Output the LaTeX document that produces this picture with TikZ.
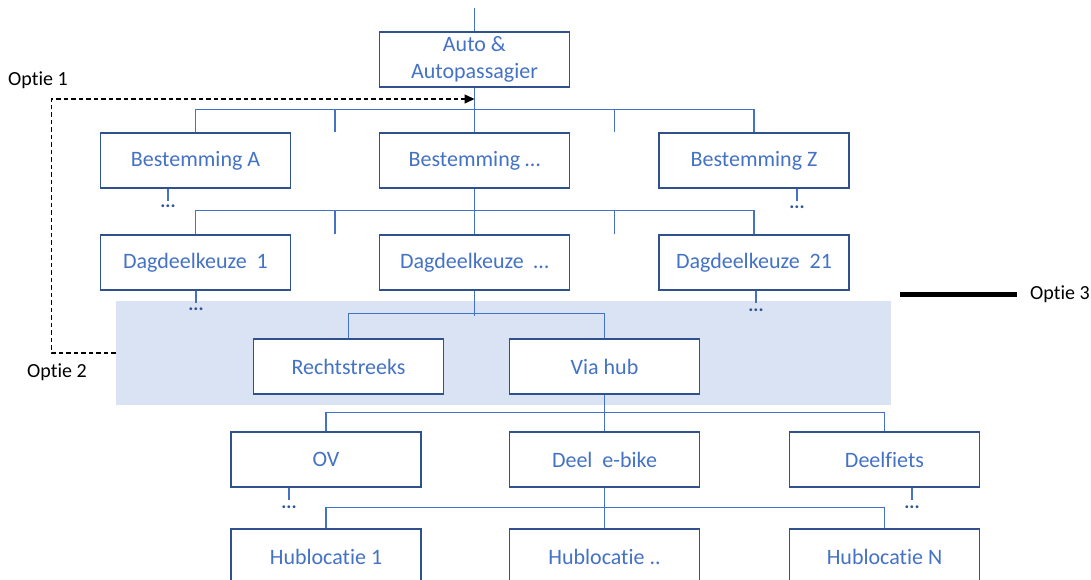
\documentclass[tikz,border=0pt]{standalone}
\usepackage{fontspec}
\setmainfont{Carlito}[Ligatures={NoCommon}]
\usetikzlibrary{arrows.meta,calc}

\definecolor{boxblue}{HTML}{4472C4}
\definecolor{edgeblue}{HTML}{2F528F}
\definecolor{zoneblue}{HTML}{DAE3F3}
\definecolor{dotblue}{HTML}{2F5597}

\tikzset{
  keuze/.style={draw=edgeblue, fill=white, line width=1.3pt, minimum width=190pt,
    minimum height=55pt, inner sep=0pt, align=center, text=boxblue,
    font=\fontsize{22}{27}\selectfont},
  tak/.style={draw=boxblue, line width=1.2pt},
  puntjes/.style={text=dotblue, inner sep=0pt, font=\bfseries\fontsize{19}{19}\selectfont},
  optie/.style={text=black, inner sep=0pt, font=\fontsize{20}{24}\selectfont},
  optielijn/.style={draw=black, line width=1.3pt, dash pattern=on 4.5pt off 3pt}
}

\begin{document}
\begin{tikzpicture}[x=1pt, y=-1pt]
    \useasboundingbox (0,0) rectangle (1091,580);
    \clip (0,0) rectangle (1091,580);

    % optie 3 zone
    \node[fill=zoneblue, minimum width=775pt, minimum height=104pt, inner sep=0pt] (zone) at (503.5,353) {};

    % the boxes
    \node[keuze] (auto) at (474.5,59.5) {Auto \&\\Autopassagier};
    \foreach [count=\x] \t/\px in {A/195.5, …/474.5, Z/754}
        \node[keuze] (b\x) at (\px,160.5) {Bestemming \t};
    \foreach [count=\x] \t/\px in {1/195.5, …/474.5, 21/754}
        \node[keuze] (d\x) at (\px,262.5) {Dagdeelkeuze~~\t};
    \node[keuze] (r1) at (348.5,366.5) {Rechtstreeks};
    \node[keuze] (r2) at (604.5,366.5) {Via hub};
    \foreach [count=\x] \t/\px in {OV/326, Deel~~e-bike/604.5, Deelfiets/884.5}
        \node[keuze] (m\x) at (\px,459.5) {\t};
    \foreach [count=\x] \t/\px in {1/326, ../604.5, N/884.5}
        \node[keuze] (h\x) at (\px,556.5) {Hublocatie \t};

    % tree
    \coordinate (boven) at (474.5,8);
    \draw[tak] (boven) -- (auto.north);
    \draw[tak] (auto.south) -- (b2.north);
    \draw[tak] (b1.north) -- ++(0,-23) -| (b3.north);
    \draw[tak] (b2.south) -- (d2.north);
    \draw[tak] (d1.north) -- ++(0,-24) -| (d3.north);
    \foreach \r/\dy in {b/23, d/24} {
        \draw[tak] ($(\r1.north)!.5!(\r2.north)$) -- ++(0,-\dy);
        \draw[tak] ($(\r2.north)!.5!(\r3.north)$) -- ++(0,-\dy);
    }
    \draw[tak] (d2.south) -- ++(0,25);
    \draw[tak] (r1.north) -- ++(0,-25) -| (r2.north);
    \draw[tak] (r2.south) -- (m2.north);
    \draw[tak] (m1.north) -- ++(0,-19) -| (m3.north);
    \draw[tak] (m2.south) -- (h2.north);
    \draw[tak] (h1.north) -- ++(0,-21) -| (h3.north);

    % the ... below
    \foreach \n/\dx/\dy in {b1/-27.5/18, b3/43/19, d1/0.5/19, d3/2/20, m1/-37/20, m3/27.5/20} {
        \node[puntjes] (stip\n) at ([xshift=\dx pt, yshift=-\dy pt]\n.south) {...};
        \draw[tak] (\n.south -| stip\n) -- ++(0,12);
    }

    % opties
    \node[optie] (o1) at (38,80) {Optie 1};
    \node[optie] (o2) at (57,372) {Optie 2};
    \node[optie, anchor=west] (o3) at (1030,294) {Optie 3};
    \coordinate (pijl) at (474.5,99);
    \coordinate (balk) at (900,294);
    \draw[optielijn, -{Triangle[length=10pt,width=9pt]}] (zone.west) -- ++(-64,0) |- (pijl);
    \draw[line width=5pt, shorten >=13pt] (balk) -- (o3.west);
\end{tikzpicture}
\end{document}
